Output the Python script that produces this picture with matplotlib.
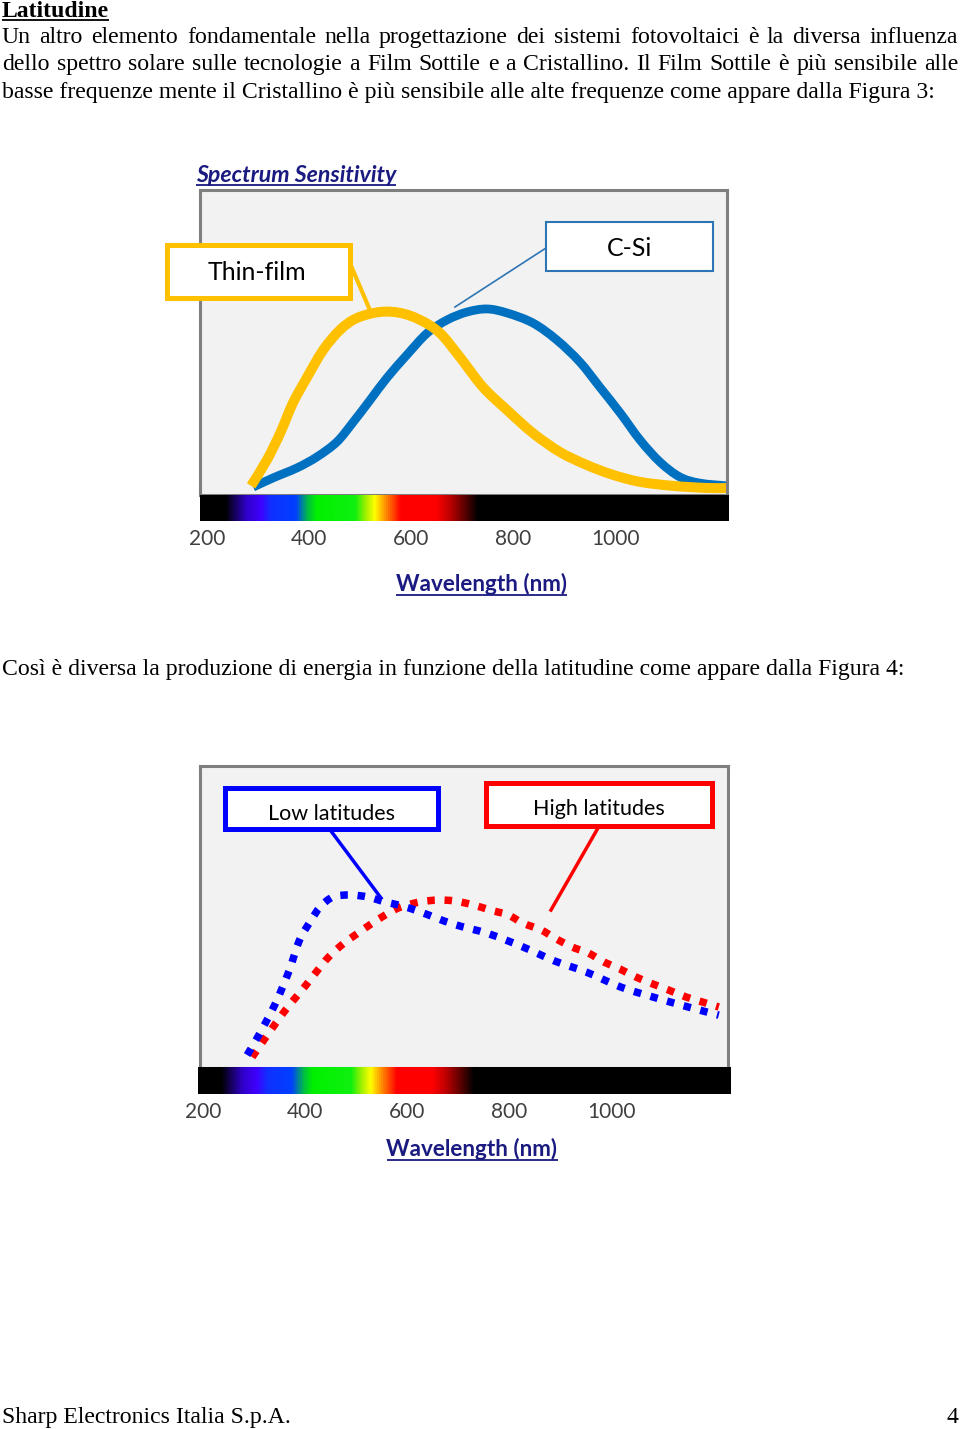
import numpy as np
import matplotlib
matplotlib.use("Agg")
import matplotlib.pyplot as plt
from matplotlib.colors import LinearSegmentedColormap
from matplotlib.patches import Rectangle, PathPatch
from matplotlib.path import Path

W, H = 960, 1429

# --- data ---
wl_ticks = [200, 400, 600, 800, 1000]

thin_nm = [286, 317, 343, 368, 396, 427, 460, 493, 538, 578, 617, 656, 695, 740,
           787, 838, 891, 944, 995, 1048, 1112, 1179, 1218]
thin_sens = [0.030, 0.115, 0.203, 0.302, 0.387, 0.475, 0.541, 0.580, 0.600, 0.597,
             0.574, 0.531, 0.452, 0.354, 0.279, 0.203, 0.141, 0.098, 0.066, 0.043,
             0.030, 0.023, 0.023]
csi_nm = [290, 329, 376, 415, 454, 486, 519, 552, 591, 631, 670, 709, 748, 787, 838,
          885, 930, 969, 1009, 1048, 1087, 1126, 1165, 1218]
csi_sens = [0.026, 0.056, 0.089, 0.125, 0.174, 0.239, 0.311, 0.384, 0.459, 0.531,
            0.574, 0.600, 0.610, 0.597, 0.564, 0.508, 0.436, 0.354, 0.269, 0.180,
            0.108, 0.059, 0.039, 0.030]

low_nm = [286, 309, 341, 368, 388, 409, 429, 454, 488, 523, 556, 591, 625, 689, 760,
          826, 889, 950, 1018, 1081, 1150, 1210]
low_energy = [0.043, 0.109, 0.212, 0.321, 0.421, 0.483, 0.533, 0.566, 0.573, 0.566,
              0.550, 0.536, 0.517, 0.477, 0.444, 0.401, 0.354, 0.318, 0.268, 0.235,
              0.202, 0.175]
high_nm = [296, 319, 358, 382, 403, 423, 446, 474, 501, 529, 560, 587, 625, 660, 693,
           729, 762, 797, 826, 862, 889, 922, 954, 985, 1016, 1048, 1081, 1112, 1146,
           1177, 1210]
high_energy = [0.036, 0.093, 0.185, 0.235, 0.278, 0.321, 0.368, 0.411, 0.444, 0.477,
               0.510, 0.533, 0.550, 0.556, 0.553, 0.540, 0.523, 0.507, 0.480, 0.457,
               0.430, 0.401, 0.381, 0.351, 0.328, 0.301, 0.278, 0.258, 0.235, 0.219,
               0.202]

spec_nm = [234, 275, 303, 324, 372, 396, 413, 489, 509, 527, 551, 578, 647, 674, 702, 729]
spec_colors = ["#000000", "#3000C8", "#4000FF", "#1030FF", "#0040FF", "#00C040",
               "#00F000", "#10F010", "#A0F000", "#FFFF00", "#FF8000", "#FF0000",
               "#FF0000", "#C00000", "#600000", "#000000"]

title = "Latitudine"
para_lines = [
    "Un altro elemento fondamentale nella progettazione dei sistemi fotovoltaici è la diversa influenza",
    "dello spettro solare sulle tecnologie a Film Sottile e a Cristallino. Il Film Sottile è più sensibile alle",
    "basse frequenze mente il Cristallino è più sensibile alle alte frequenze come appare dalla Figura 3:",
]
para2 = "Così è diversa la produzione di energia in funzione della latitudine come appare dalla Figura 4:"
footer_left = "Sharp Electronics Italia S.p.A."
footer_right = "4"

plt.rcParams["font.family"] = ["Lato", "DejaVu Sans"]
serif = "Liberation Serif"
navy = "#1A1A80"

fig = plt.figure(figsize=(W / 100, H / 100), dpi=100)
fig.patch.set_facecolor("white")


def add_px_axes(x0, y0, x1, y1):
    return fig.add_axes([x0 / W, 1 - y1 / H, (x1 - x0) / W, (y1 - y0) / H])


def nm_at(px, px600):
    return 600 + (px - px600) / 0.5105


def smooth_line(ax, xs, ys, **kw):
    # smoothed line through the points (cubic Bezier segments, like a drawn curve)
    pts = np.column_stack([xs, ys]).astype(float)
    p = np.vstack([pts[0], pts, pts[-1]])
    verts = [pts[0]]
    codes = [Path.MOVETO]
    for i in range(1, len(p) - 2):
        verts += [p[i] + (p[i + 1] - p[i - 1]) / 6,
                  p[i + 1] - (p[i + 2] - p[i]) / 6,
                  p[i + 1]]
        codes += [Path.CURVE4] * 3
    ax.add_patch(PathPatch(Path(verts, codes), fill=False, **kw))


def draw_spectrum(ax, lo, hi):
    pos = [(n - lo) / (hi - lo) for n in spec_nm]
    stops = list(zip([0.0] + pos + [1.0], ["#000000"] + spec_colors + ["#000000"]))
    cmap = LinearSegmentedColormap.from_list("spec", stops)
    ax.imshow(np.linspace(0, 1, 1024)[None, :], cmap=cmap, aspect="auto",
              extent=(lo, hi, 0, 1))
    ax.set_xlim(lo, hi)
    ax.set_ylim(0, 1)
    ax.set_yticks([])
    ax.set_xticks(wl_ticks)
    ax.tick_params(axis="x", length=0, pad=6, labelsize=15, labelcolor="#404040")
    for s in ax.spines.values():
        s.set_visible(False)


def chart(box, spec_box, px600):
    ax = add_px_axes(*box)
    ax.set_facecolor("#F2F2F2")
    ax.set_xlim(nm_at(box[0], px600), nm_at(box[2], px600))
    ax.set_ylim(0, 1)
    ax.set_xticks([])
    ax.set_yticks([])
    for s in ax.spines.values():
        s.set_color("#7F7F7F")
        s.set_linewidth(2.2)
    ax_s = add_px_axes(*spec_box)
    draw_spectrum(ax_s, nm_at(spec_box[0], px600), nm_at(spec_box[2], px600))
    return ax


# chart 1: spectrum sensitivity
ax1 = chart((200, 190, 727, 495), (200, 495, 728, 521), 411.4)
smooth_line(ax1, csi_nm, csi_sens, edgecolor="#0070C0", lw=6.3, capstyle="butt",
            joinstyle="round")
smooth_line(ax1, thin_nm, thin_sens, edgecolor="#FFC000", lw=7.2, capstyle="butt",
            joinstyle="round")

# chart 2: latitudes
ax2 = chart((200, 766, 728, 1068), (198, 1067, 730, 1094), 407.4)
smooth_line(ax2, high_nm, high_energy, edgecolor="#FF0000", lw=5.4,
            linestyle=(0, (1, 1.3)), capstyle="butt")
smooth_line(ax2, low_nm, low_energy, edgecolor="#0000FF", lw=5.4,
            linestyle=(0, (1, 1.3)), capstyle="butt")

# page overlay (text, callouts) in pixel coordinates
ax_p = fig.add_axes([0, 0, 1, 1])
ax_p.set_xlim(0, W)
ax_p.set_ylim(H, 0)
ax_p.axis("off")
ax_p.patch.set_visible(False)
ax_p.set_zorder(10)
renderer = fig.canvas.get_renderer()


def underline(t, y, color, lw):
    bb = t.get_window_extent(renderer)
    ax_p.plot([bb.x0, bb.x1], [y, y], color=color, lw=lw, solid_capstyle="butt")


def justified(line, y, x0, x1, **kw):
    words = line.split()
    texts = [ax_p.text(x0, y, w, va="baseline", **kw) for w in words]
    widths = [t.get_window_extent(renderer).width for t in texts]
    gap = (x1 - x0 - sum(widths)) / (len(words) - 1)
    x = x0
    for t, w in zip(texts, widths):
        t.set_x(x)
        x += w + gap


body = dict(family=serif, fontsize=17.1, color="black")
t = ax_p.text(2, 17, title, va="baseline", fontweight="bold", **body)
underline(t, 20, "black", 1.3)
justified(para_lines[0], 43, 2, 958, **body)
justified(para_lines[1], 70, 2, 958, **body)
ax_p.text(2, 98, para_lines[2], va="baseline", **body)
ax_p.text(2, 675, para2, va="baseline", **body)
ax_p.text(2, 1423, footer_left, va="baseline", **body)
ax_p.text(958, 1423, footer_right, va="baseline", ha="right", **body)

# chart titles and axis labels
t = ax_p.text(196, 182, "Spectrum Sensitivity", va="baseline", fontsize=16.7,
              fontweight="bold", fontstyle="italic", color=navy)
underline(t, 185, navy, 1.3)
t = ax_p.text(481, 591, "Wavelength (nm)", va="baseline", ha="center", fontsize=16.2,
              fontweight="bold", color=navy)
underline(t, 595, navy, 1.3)
t = ax_p.text(472, 1156, "Wavelength (nm)", va="baseline", ha="center", fontsize=16.2,
              fontweight="bold", color=navy)
underline(t, 1160, navy, 1.3)

# callouts chart 1
ax_p.plot([352, 369], [268, 308], color="#FFC000", lw=3)
ax_p.add_patch(Rectangle((166.5, 244.5), 183, 53, facecolor="white",
                         edgecolor="#FFC000", lw=3.6))
ax_p.text(257, 280, "Thin-film", ha="center", va="baseline", fontsize=18)
ax_p.plot([546, 455], [248, 307], color="#2E75B6", lw=1.2)
ax_p.add_patch(Rectangle((546, 222), 167, 49, facecolor="white",
                         edgecolor="#2E75B6", lw=1.5))
ax_p.text(630, 256, "C-Si", ha="center", va="baseline", fontsize=18)

# callouts chart 2
ax_p.plot([331, 381], [831, 898], color="#0000FF", lw=2.5)
ax_p.add_patch(Rectangle((224.5, 787.5), 213, 41, facecolor="white",
                         edgecolor="#0000FF", lw=3.6))
ax_p.text(332, 820, "Low latitudes", ha="center", va="baseline", fontsize=15.5)
ax_p.plot([598, 551], [828, 910], color="#FF0000", lw=2.5)
ax_p.add_patch(Rectangle((485.5, 782.5), 226, 43, facecolor="white",
                         edgecolor="#FF0000", lw=3.6))
t = ax_p.text(599, 815, "High latitudes", ha="center", va="baseline", fontsize=15.5)
clip = Rectangle((488, 785), 221, 30, transform=ax_p.transData)
t.set_clip_path(clip)

fig.savefig("out.png", dpi=100)
